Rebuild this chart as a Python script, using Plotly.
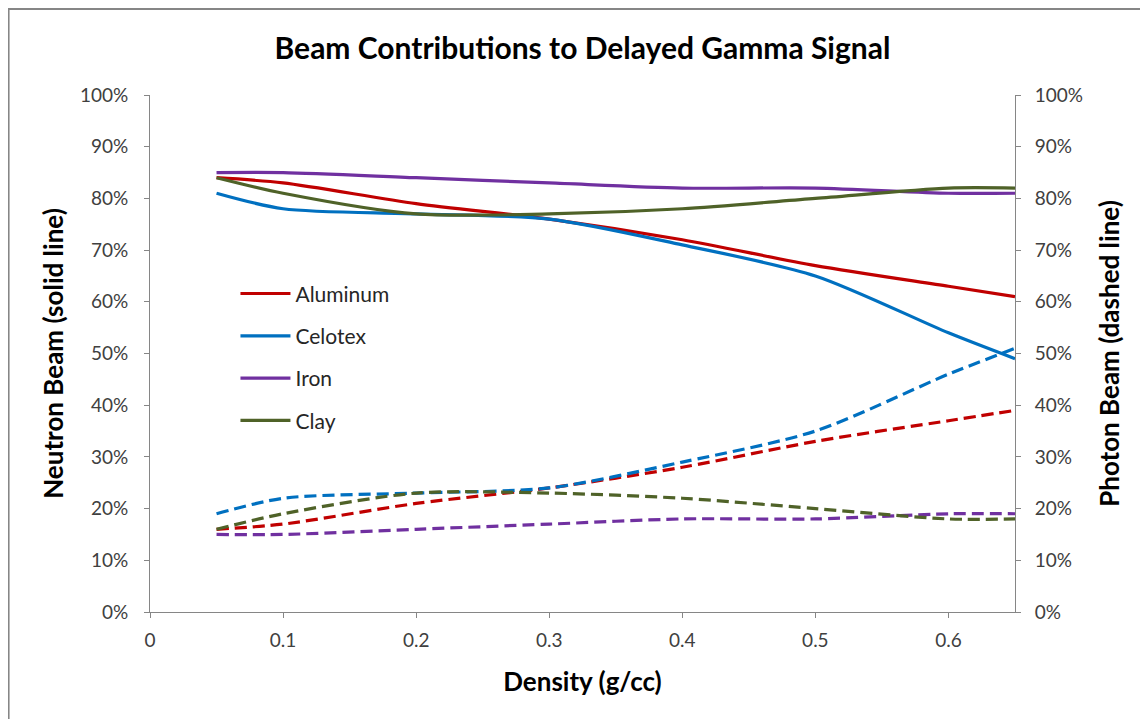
import plotly.graph_objects as go

density = [0.05, 0.1, 0.2, 0.3, 0.4, 0.5, 0.6, 0.65]
materials = ["Aluminum", "Celotex", "Iron", "Clay"]
colors = ["#C00000", "#0070C0", "#7030A0", "#4F6228"]

neutron = {
    "Aluminum": [0.84, 0.83, 0.79, 0.76, 0.72, 0.67, 0.63, 0.61],
    "Celotex":  [0.81, 0.78, 0.77, 0.76, 0.71, 0.65, 0.54, 0.49],
    "Iron":     [0.85, 0.85, 0.84, 0.83, 0.82, 0.82, 0.81, 0.81],
    "Clay":     [0.84, 0.81, 0.77, 0.77, 0.78, 0.80, 0.82, 0.82],
}
photon = {
    "Aluminum": [0.16, 0.17, 0.21, 0.24, 0.28, 0.33, 0.37, 0.39],
    "Celotex":  [0.19, 0.22, 0.23, 0.24, 0.29, 0.35, 0.46, 0.51],
    "Iron":     [0.15, 0.15, 0.16, 0.17, 0.18, 0.18, 0.19, 0.19],
    "Clay":     [0.16, 0.19, 0.23, 0.23, 0.22, 0.20, 0.18, 0.18],
}

FONT = "Lato, 'Open Sans', sans-serif"

fig = go.Figure()
for m, c in zip(materials, colors):
    fig.add_trace(go.Scatter(
        x=density, y=neutron[m], name=m, mode="lines", legendgroup=m,
        line=dict(color=c, width=3.2, shape="spline", smoothing=0.8),
        showlegend=True, yaxis="y"))
for m, c in zip(materials, colors):
    fig.add_trace(go.Scatter(
        x=density, y=photon[m], name=m + " (photon)", mode="lines",
        legendgroup=m,
        line=dict(color=c, width=3.2, dash="12px,6px", shape="spline",
                  smoothing=0.8),
        showlegend=False, yaxis="y2"))

axis_common = dict(
    showgrid=False, zeroline=False, showline=True, linecolor="#868686",
    linewidth=1, ticks="outside", ticklen=5, tickcolor="#868686",
    automargin=False,
    tickfont=dict(family=FONT, size=19, color="#404040"),
)

fig.update_layout(
    width=1140, height=711,
    paper_bgcolor="white", plot_bgcolor="white",
    margin=dict(l=142, r=133, t=87, b=107),
    title=dict(text="<b>Beam Contributions to Delayed Gamma Signal</b>",
               x=0.5, xanchor="center", xref="paper",
               y=0.943, yanchor="middle", yref="container",
               font=dict(family=FONT, size=30, color="black")),
    xaxis=dict(range=[0, 0.65], dtick=0.1, tick0=0,
               ticklabelstandoff=6,
               title=dict(text="<b>Density (g/cc)</b>", standoff=23,
                          font=dict(family=FONT, size=26, color="black")),
               **axis_common),
    yaxis=dict(range=[0, 1], dtick=0.1, tickformat=".0%",
               ticklabelstandoff=12,
               title=dict(text="<b>Neutron Beam (solid line)</b>", standoff=8,
                          font=dict(family=FONT, size=26, color="black")),
               **axis_common),
    yaxis2=dict(range=[0, 1], dtick=0.1, tickformat=".0%", overlaying="y",
                side="right", ticklabelstandoff=10,
                title=dict(text="<b>Photon Beam (dashed line)</b>", standoff=18,
                           font=dict(family=FONT, size=26, color="black")),
                **axis_common),
    legend=dict(x=0.0988, y=0.655, xanchor="left", yanchor="top",
                bgcolor="rgba(0,0,0,0)", tracegroupgap=12,
                itemwidth=50,
                font=dict(family=FONT, size=21, color="#262626")),
    shapes=[dict(type="rect", xref="paper", yref="paper",
                 x0=-0.1635, x1=1.3, y0=-0.4, y1=1.1663,
                 line=dict(color="#868686", width=2))],
)

fig.write_html("out.html")
